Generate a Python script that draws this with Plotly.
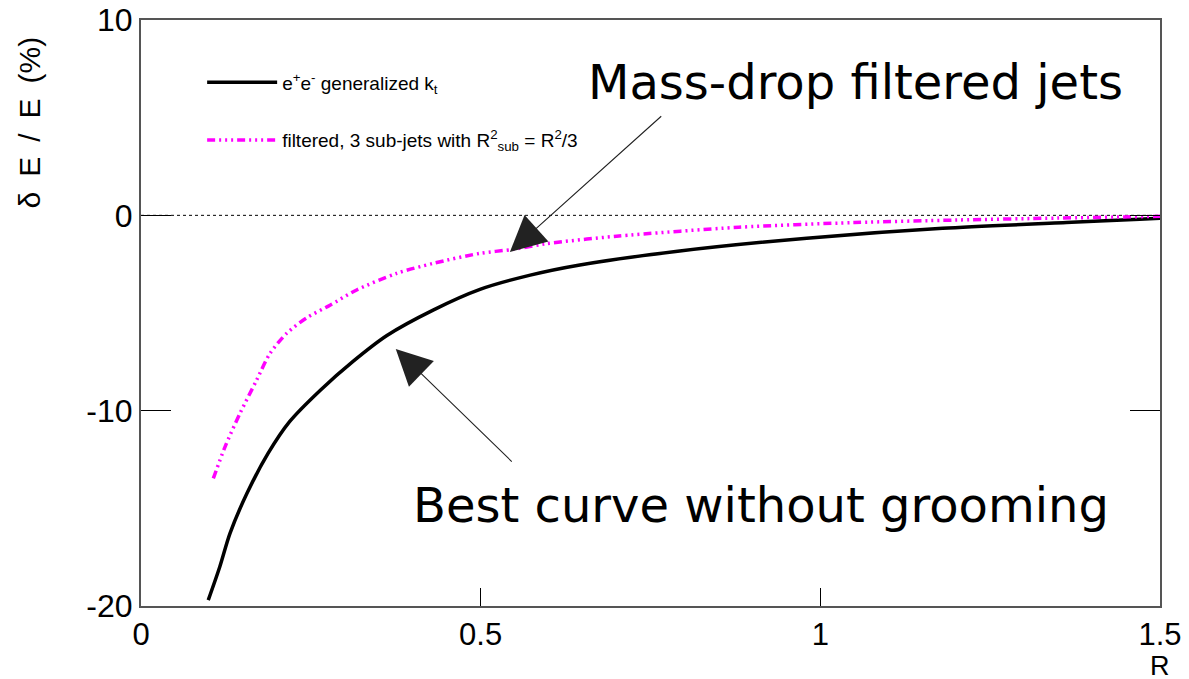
import plotly.graph_objects as go

# ---- data ----
r_kt = [0.099, 0.116, 0.131, 0.156, 0.187, 0.219, 0.264, 0.313, 0.362, 0.430,
        0.499, 0.573, 0.646, 0.79, 0.98, 1.18, 1.37, 1.47, 1.50]
de_kt = [-19.70, -17.99, -16.28, -14.23, -12.19, -10.55, -8.95, -7.45, -6.15, -4.85,
         -3.79, -3.06, -2.54, -1.84, -1.17, -0.66, -0.36, -0.20, -0.15]

r_filt = [0.1065, 0.1237, 0.1457, 0.1703, 0.1899, 0.2145, 0.2439, 0.2782, 0.3175,
          0.3764, 0.4299, 0.4986, 0.548, 0.597, 0.70, 0.88, 1.05, 1.20, 1.35, 1.50]
de_filt = [-13.47, -11.85, -10.14, -8.43, -7.07, -6.04, -5.25, -4.6, -3.82,
           -2.97, -2.46, -1.95, -1.74, -1.45, -1.07, -0.61, -0.37, -0.24, -0.14, -0.05]

name_kt = "e<sup>+</sup>e<sup>-</sup> generalized k<sub>t</sub>"
name_filt = "filtered, 3 sub-jets with R<sup>2</sup><sub>sub</sub> = R<sup>2</sup>/3"

x_range = [0, 1.5]
y_range = [-20, 10]
x_ticks = [0, 0.5, 1, 1.5]
x_ticklabels = ["0", "0.5", "1", "1.5"]
y_ticks = [-20, -10, 0, 10]
y_ticklabels = ["-20", "-10", "0", "10"]

fig = go.Figure()
fig.add_trace(go.Scatter(x=r_kt, y=de_kt, mode="lines", name=name_kt,
                         legendgroup="a",
                         line=dict(color="black", width=3.5, shape="spline", smoothing=0.8)))
fig.add_trace(go.Scatter(x=r_filt, y=de_filt, mode="lines", name=name_filt,
                         legendgroup="b",
                         line=dict(color="#ff00ff", width=3.5, shape="spline", smoothing=0.8,
                                   dash="8px,4px,2px,4px,2px,4px,2px,4px")))

# zero reference line
fig.add_shape(type="line", xref="x", yref="y", x0=0, x1=1.5, y0=0, y1=0,
              line=dict(color="black", width=1, dash="dot"), layer="below")

ann_font = dict(family="DejaVu Sans", size=48, color="black")
fig.add_annotation(x=0.655, y=6.85, xref="x", yref="y", text="Mass-drop filtered jets",
                   showarrow=False, xanchor="left", yanchor="middle", font=ann_font)
fig.add_annotation(x=0.398, y=-14.83, xref="x", yref="y", text="Best curve without grooming",
                   showarrow=False, xanchor="left", yanchor="middle", font=ann_font)

# arrows
for (x, y, ax, ay) in [(0.543, -1.88, 0.768, 5.14), (0.375, -6.84, 0.548, -12.68)]:
    fig.add_annotation(x=x, y=y, ax=ax, ay=ay, xref="x", yref="y", axref="x", ayref="y",
                       text="", showarrow=True, arrowhead=2, arrowsize=6.5,
                       arrowwidth=1.1, arrowcolor="#222222", standoff=0)

# axis titles
fig.add_annotation(x=-0.109, y=0.825, xref="paper", yref="paper",
                   text="δ\u2002E\u2002/\u2002E\u2002(%)",
                   textangle=-90, showarrow=False, xanchor="center", yanchor="middle",
                   font=dict(family="Liberation Sans", size=30, color="black"))
fig.add_annotation(x=1.0, y=-0.1024, xref="paper", yref="paper", text="R",
                   showarrow=False, xanchor="center", yanchor="middle", borderpad=0,
                   font=dict(family="Liberation Sans", size=27, color="black"))

fig.update_layout(
    width=1189, height=679,
    margin=dict(l=141, r=29, t=20, b=73, autoexpand=False),
    paper_bgcolor="white", plot_bgcolor="white",
    showlegend=True,
    legend=dict(x=0.06, y=0.926, xanchor="left", yanchor="top",
                bgcolor="rgba(0,0,0,0)", tracegroupgap=30,
                traceorder="grouped", itemwidth=70,
                font=dict(family="Liberation Sans", size=19, color="black")),
    font=dict(family="Liberation Sans", color="black"),
)
fig.update_xaxes(range=x_range, tickmode="array", tickvals=x_ticks, ticktext=x_ticklabels,
                 ticks="inside", ticklen=18, tickwidth=1.3, tickcolor="black",
                 showline=True, linecolor="#555555", linewidth=2, mirror=True,
                 showgrid=False, zeroline=False, automargin=False,
                 tickfont=dict(family="Liberation Sans", size=31, color="black"))
fig.update_yaxes(range=y_range, tickmode="array", tickvals=y_ticks, ticktext=y_ticklabels,
                 ticks="inside", ticklen=30, tickwidth=1.3, tickcolor="black",
                 showline=True, linecolor="#555555", linewidth=2, mirror="ticks",
                 showgrid=False, zeroline=False, automargin=False,
                 tickfont=dict(family="Liberation Sans", size=32, color="black"))

fig.write_html("out.html")
